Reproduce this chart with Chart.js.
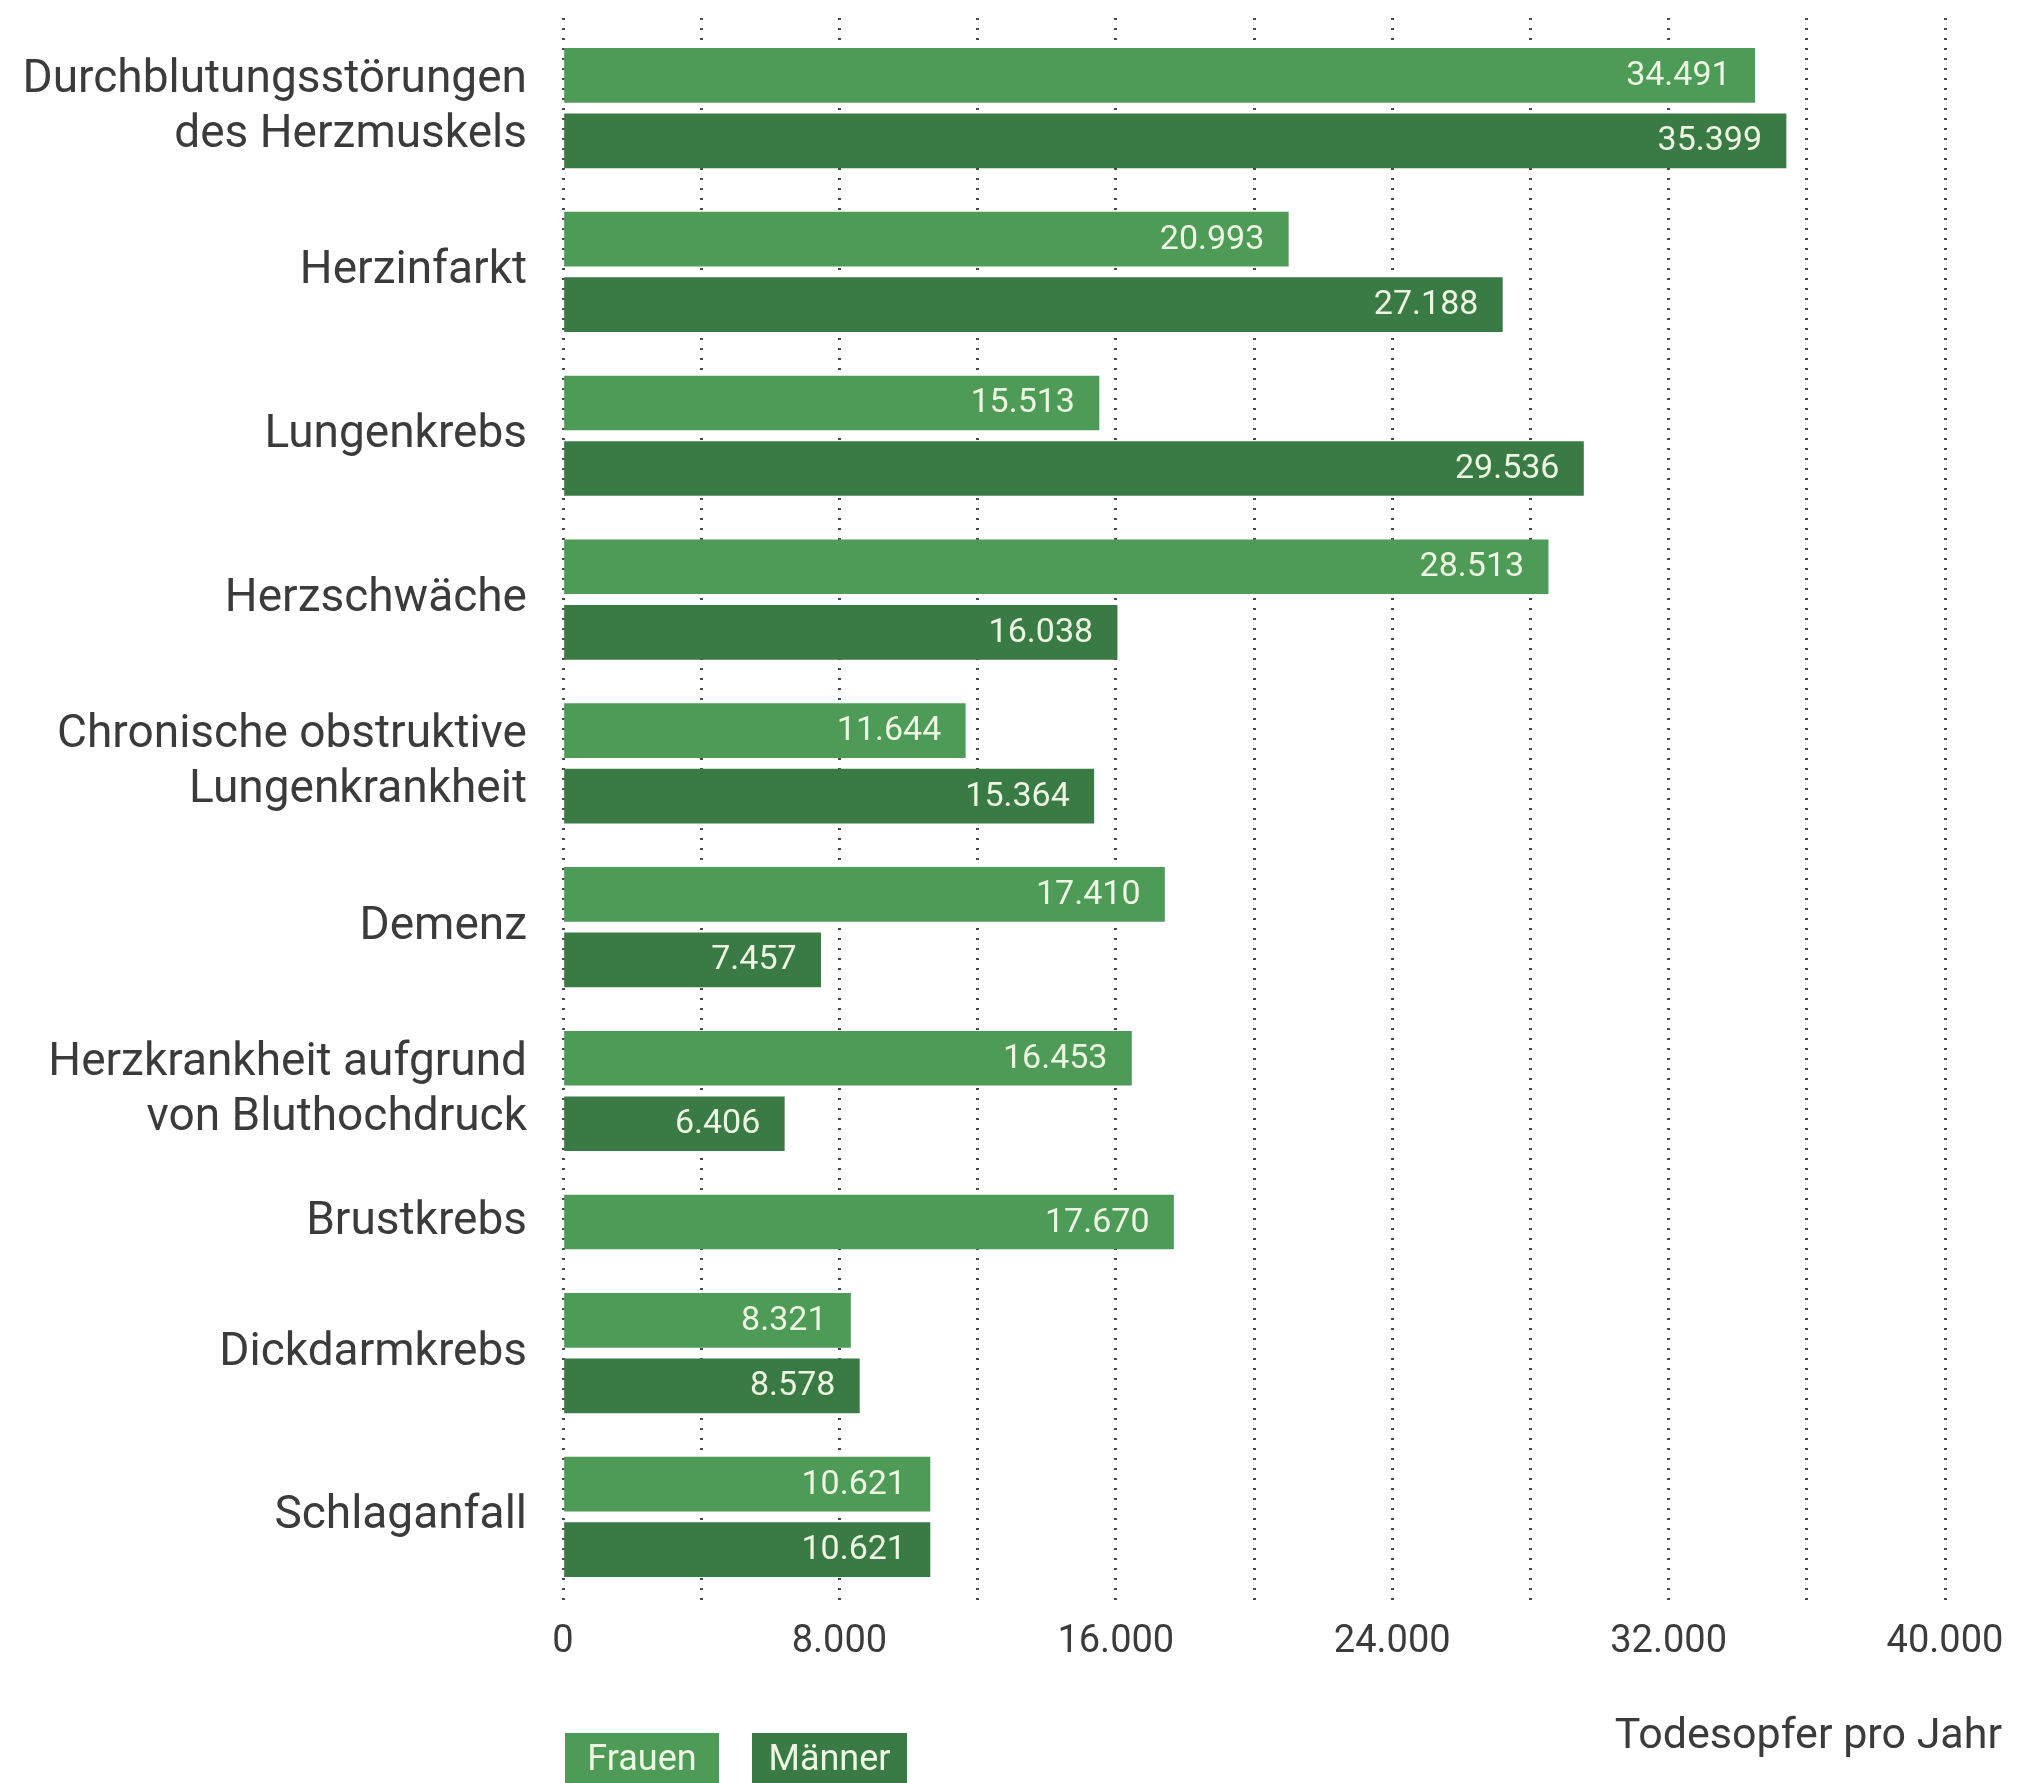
<!DOCTYPE html>
<html lang="de">
<head>
<meta charset="utf-8">
<title>Todesopfer pro Jahr</title>
<script src="https://cdn.jsdelivr.net/npm/chart.js@4.4.1/dist/chart.umd.min.js"></script>
<style>
  html, body { margin: 0; padding: 0; background: #fff; }
  #wrap { width: 2018px; height: 1783px; }
</style>
</head>
<body>
<div id="wrap"><canvas id="chart" width="2018" height="1783"></canvas></div>
<script>
// --- Data ---
const categories = [
    ['Durchblutungsstörungen', 'des Herzmuskels'],
    'Herzinfarkt',
    'Lungenkrebs',
    'Herzschwäche',
    ['Chronische obstruktive', 'Lungenkrankheit'],
    'Demenz',
    ['Herzkrankheit aufgrund', 'von Bluthochdruck'],
    'Brustkrebs',
    'Dickdarmkrebs',
    'Schlaganfall'
];
const frauen = [34491, 20993, 15513, 28513, 11644, 17410, 16453, 17670, 8321, 10621];
const maenner = [35399, 27188, 29536, 16038, 15364, 7457, 6406, null, 8578, 10621];
const xTickLabels = [0, 8000, 16000, 24000, 32000, 40000];
const seriesNames = ['Frauen', 'Männer'];

// --- Style ---
const FONT = 'Roboto, "Noto Sans", sans-serif';
const TEXT_COLOR = '#3b3b3b';
const FRAUEN_COLOR = '#4e9b57';
const MAENNER_COLOR = '#3a7a45';
const VALUE_COLOR = '#ecf6e2';

// German thousands separator
function fmt(v) {
    return String(v).replace(/\B(?=(\d{3})+(?!\d))/g, '.');
}

// Rows on the category axis: a pair of bars sits 4 rows apart (label in the middle),
// groups are 6 rows apart, a single bar carries its own label.
const EDGE = 3, INNER = 4, OUTER = 6;
const rowLabels = [], rowF = [], rowM = [];
function addRow(label, f, m) {
    rowLabels.push(label);
    rowF.push(f);
    rowM.push(m);
}
for (let i = 0; i < EDGE; i++) addRow('', null, null);
categories.forEach((cat, i) => {
    if (i > 0) for (let k = 0; k < OUTER - 1; k++) addRow('', null, null);
    if (maenner[i] == null) {
        addRow(cat, frauen[i], null);
    } else {
        addRow('', frauen[i], null);
        for (let k = 1; k < INNER; k++) addRow(k === INNER / 2 ? cat : '', null, null);
        addRow('', null, maenner[i]);
    }
});
for (let i = 0; i < EDGE; i++) addRow('', null, null);

// Value labels inside the bar ends
const valueLabels = {
    id: 'valueLabels',
    afterDatasetsDraw(chart) {
        const ctx = chart.ctx;
        ctx.save();
        ctx.font = '34px ' + FONT;
        ctx.fillStyle = VALUE_COLOR;
        ctx.textAlign = 'right';
        ctx.textBaseline = 'middle';
        chart.data.datasets.forEach((ds, di) => {
            const meta = chart.getDatasetMeta(di);
            meta.data.forEach((bar, i) => {
                const v = ds.data[i];
                if (v == null) return;
                ctx.fillText(fmt(v), bar.x - 24, bar.y + 1);
            });
        });
        ctx.restore();
    }
};

// Box legend and axis caption below the chart
const legendBoxes = {
    id: 'legendBoxes',
    afterDraw(chart) {
        const ctx = chart.ctx;
        const left = chart.chartArea.left;
        const boxes = [
            { text: seriesNames[0], color: FRAUEN_COLOR, x: left + 2, w: 154 },
            { text: seriesNames[1], color: MAENNER_COLOR, x: left + 189, w: 155 }
        ];
        ctx.save();
        ctx.font = '36px ' + FONT;
        ctx.textAlign = 'center';
        ctx.textBaseline = 'alphabetic';
        boxes.forEach(b => {
            ctx.fillStyle = b.color;
            ctx.fillRect(b.x, 1733, b.w, 60);
            ctx.fillStyle = VALUE_COLOR;
            ctx.fillText(b.text, b.x + b.w / 2, 1770);
        });
        ctx.font = '43px ' + FONT;
        ctx.fillStyle = TEXT_COLOR;
        ctx.textAlign = 'right';
        ctx.fillText('Todesopfer pro Jahr', chart.width - 16, 1748);
        ctx.restore();
    }
};

const ctx = document.getElementById('chart').getContext('2d');
new Chart(ctx, {
    type: 'bar',
    data: {
        labels: rowLabels,
        datasets: [
            { label: seriesNames[0], data: rowF, backgroundColor: FRAUEN_COLOR, barThickness: 54 },
            { label: seriesNames[1], data: rowM, backgroundColor: MAENNER_COLOR, barThickness: 54 }
        ]
    },
    options: {
        indexAxis: 'y',
        responsive: false,
        animation: false,
        layout: { padding: { top: 18, right: 73, bottom: 0, left: 0 } },
        plugins: {
            legend: { display: false },
            tooltip: { enabled: false }
        },
        scales: {
            x: {
                min: 0,
                max: xTickLabels[xTickLabels.length - 1],
                ticks: {
                    stepSize: 4000,
                    autoSkip: false,
                    maxRotation: 0,
                    padding: 13,
                    color: TEXT_COLOR,
                    font: { family: FONT, size: 38 },
                    callback: v => xTickLabels.includes(v) ? fmt(v) : ''
                },
                grid: { color: '#4a4a4a', lineWidth: 3, drawTicks: false },
                border: { display: false, dash: [2, 8] },
                afterFit(scale) { scale.height = 176; }
            },
            y: {
                stacked: true,
                ticks: {
                    autoSkip: false,
                    padding: 36,
                    color: TEXT_COLOR,
                    font: { family: FONT, size: 46, lineHeight: 1.2 }
                },
                grid: { display: false, drawTicks: false },
                border: { display: false },
                afterFit(scale) {
                    scale.width = 563;
                    scale.paddingTop = 0;
                    scale.paddingBottom = 0;
                }
            }
        }
    },
    plugins: [valueLabels, legendBoxes]
});
</script>
</body>
</html>
